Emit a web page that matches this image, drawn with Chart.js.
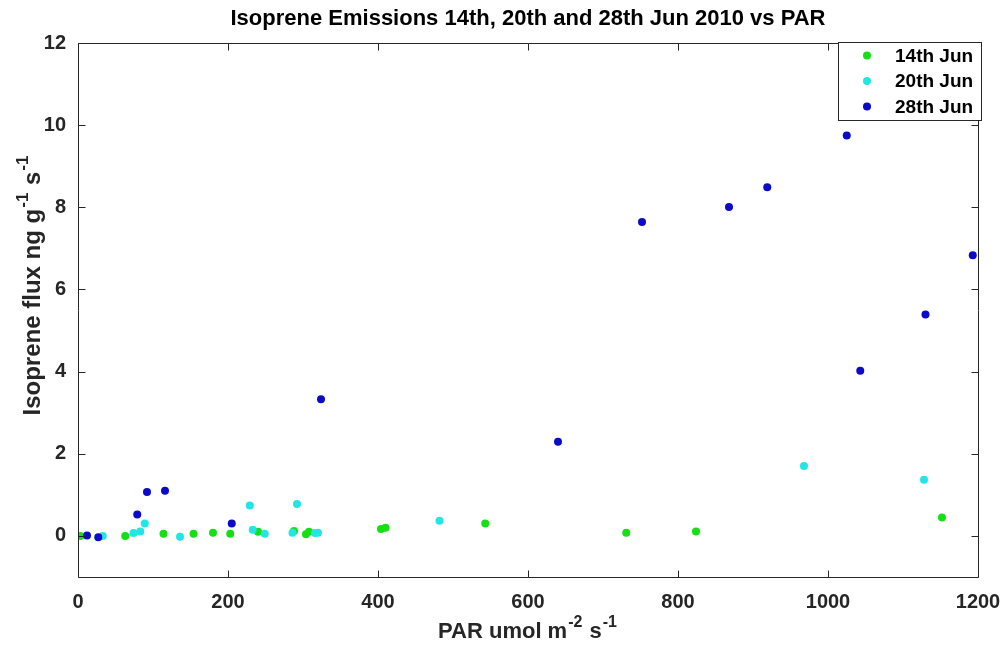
<!DOCTYPE html>
<html>
<head>
<meta charset="utf-8">
<script src="https://cdn.jsdelivr.net/npm/chart.js@4.4.1/dist/chart.umd.min.js"></script>
<style>
  html, body { margin: 0; padding: 0; background: #fff; }
  #wrap { position: relative; width: 1005px; height: 648px; }
</style>
</head>
<body>
<div id="wrap"><canvas id="c" width="1005" height="648"></canvas></div>
<script>
// ---- data ----
const jun14X = [3, 63, 114, 154, 180, 203, 240, 288, 304, 308, 404, 410, 543, 731, 824, 1152];
const jun14Y = [0.0, 0.0, 0.05, 0.05, 0.08, 0.05, 0.1, 0.12, 0.04, 0.1, 0.17, 0.2, 0.3, 0.08, 0.11, 0.45];

const jun20X = [33, 74, 83, 89, 136, 229, 233, 249, 286, 292, 316, 320, 482, 968, 1128];
const jun20Y = [0.0, 0.07, 0.11, 0.3, -0.02, 0.74, 0.15, 0.05, 0.08, 0.78, 0.07, 0.08, 0.37, 1.7, 1.37];

const jun28X = [12, 27, 79, 92, 116, 205, 324, 640, 752, 868, 919, 1025, 1043, 1130, 1193];
const jun28Y = [0.01, -0.03, 0.52, 1.07, 1.1, 0.3, 3.33, 2.29, 7.64, 8.01, 8.49, 9.75, 4.02, 5.39, 6.83];

const seriesLabels = ['14th Jun', '20th Jun', '28th Jun'];
const xTicks = [0, 200, 400, 600, 800, 1000, 1200];
const yTicks = [0, 2, 4, 6, 8, 10, 12];

const titleText = 'Isoprene Emissions 14th, 20th and 28th Jun 2010 vs PAR';
// axis titles as [text, isSuperscript] pieces
const xTitleParts = [['PAR umol m', false], ['-2', true], [' s', false], ['-1', true]];
const yTitleParts = [['Isoprene flux ng g', false], ['-1', true], [' s', false], ['-1', true]];

// ---- styles ----
const colors = ['#14e014', '#22e6e6', '#0a0ac8'];
const axisColor = '#262626';
const FONT = '"Liberation Sans", Arial, sans-serif';
const TITLE_SIZE = 22, TICK_SIZE = 20, LEGEND_SIZE = 19;

const toPts = (xs, ys) => xs.map((x, i) => ({ x: x, y: ys[i] }));

function drawRich(ctx, parts, cx, cy, size, supSize, raise) {
  const widths = parts.map(([t, sup]) => {
    ctx.font = 'bold ' + (sup ? supSize : size) + 'px ' + FONT;
    return ctx.measureText(t).width + (sup ? 2 : 0);
  });
  const total = widths.reduce((a, b) => a + b, 0);
  let x = cx - total / 2;
  ctx.textAlign = 'left';
  ctx.textBaseline = 'middle';
  parts.forEach(([t, sup], i) => {
    ctx.font = 'bold ' + (sup ? supSize : size) + 'px ' + FONT;
    ctx.fillText(t, x + (sup ? 1 : 0), sup ? cy - raise : cy);
    x += widths[i];
  });
}

const boxPlugin = {
  id: 'boxPlugin',
  afterDatasetsDraw(chart) {
    const { ctx, chartArea: a, scales } = chart;
    ctx.save();
    ctx.strokeStyle = axisColor;
    ctx.lineWidth = 1;
    ctx.beginPath();
    const L = Math.round(a.left) + 0.5, R = Math.round(a.right) + 0.5;
    const T = Math.round(a.top) + 0.5, B = Math.round(a.bottom) + 0.5;
    ctx.rect(L, T, R - L, B - T);
    const tl = 7;
    xTicks.forEach(v => {
      const px = Math.round(scales.x.getPixelForValue(v)) + 0.5;
      ctx.moveTo(px, B); ctx.lineTo(px, B - tl);
      ctx.moveTo(px, T); ctx.lineTo(px, T + tl);
    });
    yTicks.forEach(v => {
      const py = Math.round(scales.y.getPixelForValue(v)) + 0.5;
      ctx.moveTo(L, py); ctx.lineTo(L + tl, py);
      ctx.moveTo(R, py); ctx.lineTo(R - tl, py);
    });
    ctx.stroke();
    ctx.restore();
  },
  afterDraw(chart) {
    const { ctx, chartArea: a } = chart;
    const cxArea = (a.left + a.right) / 2;
    ctx.save();
    ctx.fillStyle = '#000';
    ctx.font = 'bold ' + TITLE_SIZE + 'px ' + FONT;
    ctx.textAlign = 'center';
    ctx.textBaseline = 'middle';
    ctx.fillText(titleText, cxArea, 19);
    ctx.fillStyle = axisColor;
    drawRich(ctx, xTitleParts, cxArea, 632, 22, 16, 9);
    ctx.save();
    ctx.translate(33, 285);
    ctx.rotate(-Math.PI / 2);
    drawRich(ctx, yTitleParts, 0, 0, 24, 17, 10);
    ctx.restore();
    const bx = 838.5, by = 42.5, bw = 143, bh = 78;
    ctx.fillStyle = '#fff';
    ctx.fillRect(bx, by, bw, bh);
    ctx.strokeStyle = axisColor;
    ctx.lineWidth = 1;
    ctx.strokeRect(bx, by, bw, bh);
    ctx.font = 'bold ' + LEGEND_SIZE + 'px ' + FONT;
    ctx.textBaseline = 'middle';
    ctx.textAlign = 'left';
    chart.data.datasets.forEach((ds, i) => {
      const cy = 55.5 + i * 25.5;
      ctx.fillStyle = ds.backgroundColor;
      ctx.beginPath();
      ctx.arc(867, cy, 4, 0, Math.PI * 2);
      ctx.fill();
      ctx.fillStyle = '#000';
      ctx.fillText(ds.label, 895, cy + 1);
    });
    ctx.restore();
  }
};

new Chart(document.getElementById('c'), {
  type: 'scatter',
  data: {
    datasets: [
      { label: seriesLabels[0], data: toPts(jun14X, jun14Y), backgroundColor: colors[0], borderWidth: 0, pointRadius: 4, order: 3 },
      { label: seriesLabels[1], data: toPts(jun20X, jun20Y), backgroundColor: colors[1], borderWidth: 0, pointRadius: 4, order: 2 },
      { label: seriesLabels[2], data: toPts(jun28X, jun28Y), backgroundColor: colors[2], borderWidth: 0, pointRadius: 4, order: 1 }
    ]
  },
  options: {
    responsive: false,
    animation: false,
    layout: { padding: { top: 43, right: 27, bottom: 0, left: 0 } },
    plugins: {
      legend: { display: false },
      tooltip: { enabled: false },
      title: { display: false }
    },
    scales: {
      x: {
        type: 'linear',
        min: 0, max: 1200,
        afterBuildTicks: s => { s.ticks = xTicks.map(v => ({ value: v })); },
        afterFit: s => { s.height = 71; s.paddingLeft = 0; s.paddingRight = 0; },
        grid: { display: false, drawTicks: false },
        border: { display: false },
        ticks: { color: axisColor, padding: 13, callback: v => String(v), font: { family: FONT, size: TICK_SIZE, weight: 'bold' } },
        title: { display: false }
      },
      y: {
        type: 'linear',
        min: -1, max: 12,
        afterBuildTicks: s => { s.ticks = yTicks.map(v => ({ value: v })); },
        afterFit: s => { s.width = 78; s.paddingTop = 0; s.paddingBottom = 0; },
        grid: { display: false, drawTicks: false },
        border: { display: false },
        ticks: { color: axisColor, padding: 12, callback: v => String(v), font: { family: FONT, size: TICK_SIZE, weight: 'bold' } },
        title: { display: false }
      }
    }
  },
  plugins: [boxPlugin]
});
</script>
</body>
</html>
